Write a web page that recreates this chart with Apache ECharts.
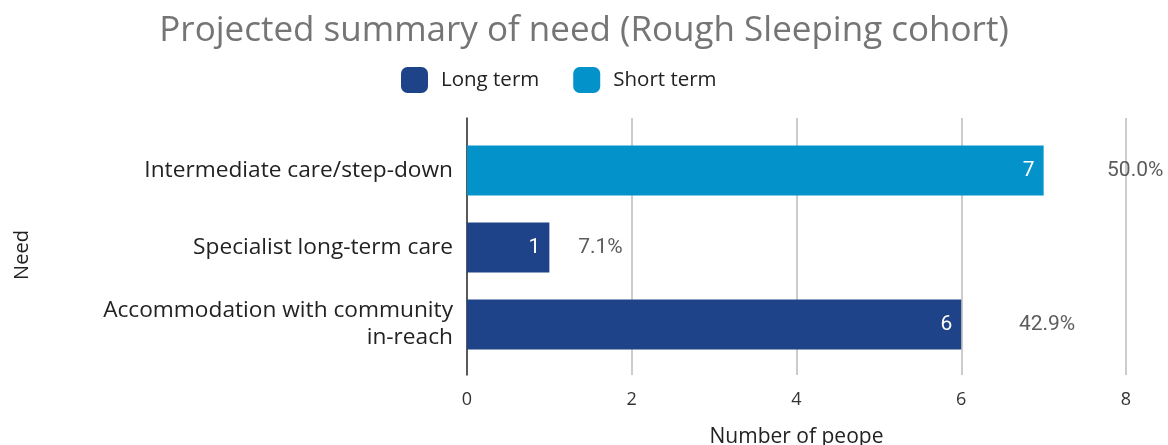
<!DOCTYPE html>
<html>
<head>
<meta charset="utf-8">
<script src="https://cdn.jsdelivr.net/npm/echarts@6/dist/echarts.min.js"></script>
<style>
  html, body { margin: 0; padding: 0; background: #fff; }
  #chart { width: 1168px; height: 445px; }
</style>
</head>
<body>
<div id="chart"></div>
<script>
// Categories listed bottom-to-top (category y axis draws first item at the bottom)
const categories = [
  'Accommodation with community\nin-reach',
  'Specialist long-term care',
  'Intermediate care/step-down'
];
const longTerm  = [6, 1, null];
const shortTerm = [null, null, 7];
const xTicks = { min: 0, max: 8, interval: 2 };

const FONT = 'Open Sans';
const NUM_FONT = 'Roboto';
const totals = categories.map((_, i) => (longTerm[i] || 0) + (shortTerm[i] || 0));
const grand = totals.reduce((a, b) => a + b, 0);
const shares = totals.map(t => t / grand * 100);

const chart = echarts.init(document.getElementById('chart'), null, { renderer: 'canvas' });
chart.setOption({
  animation: false,
  textStyle: { fontFamily: FONT },
  title: {
    text: 'Projected summary of need (Rough Sleeping cohort)',
    left: 'center', top: 9,
    textStyle: { fontFamily: FONT, fontSize: 35, fontWeight: 'normal', color: '#757575' }
  },
  legend: {
    top: 62, left: 396,
    itemWidth: 27, itemHeight: 26, itemGap: 34,
    icon: 'roundRect',
    textStyle: { fontFamily: FONT, fontSize: 20.5, color: '#222', padding: [0, 0, 0, 8] },
    data: ['Long term', 'Short term']
  },
  grid: [
    // bars
    { left: 467, right: 42, top: 132, height: 231, outerBoundsMode: 'none', containLabel: false },
    // frame: value scale, gridlines and axis names
    { left: 467, right: 42, top: 118, bottom: 70, outerBoundsMode: 'none', containLabel: false }
  ],
  xAxis: [
    { gridIndex: 0, type: 'value', min: xTicks.min, max: xTicks.max, interval: xTicks.interval, show: false },
    {
      gridIndex: 1, type: 'value', min: xTicks.min, max: xTicks.max, interval: xTicks.interval,
      name: 'Number of peope', nameLocation: 'middle', nameGap: 52,
      nameTextStyle: { fontFamily: FONT, fontSize: 21, color: '#222' },
      axisLine: { show: false }, axisTick: { show: false },
      axisLabel: { fontFamily: FONT, fontSize: 18, color: '#333', margin: 16 },
      splitLine: { show: true, lineStyle: { color: '#cccccc', width: 2 } }
    },
    // hidden scale for the share-of-total labels
    { gridIndex: 0, type: 'value', min: 0, max: 53.4, show: false }
  ],
  yAxis: [
    {
      gridIndex: 0, type: 'category', data: categories,
      axisLine: { show: false }, axisTick: { show: false },
      axisLabel: { fontFamily: FONT, fontSize: 22.7, color: '#222', margin: 14, lineHeight: 27, align: 'right' }
    },
    {
      gridIndex: 1, type: 'category', data: categories,
      name: 'Need', nameLocation: 'middle', nameGap: 435, nameRotate: 90,
      nameTextStyle: { fontFamily: FONT, fontSize: 20, color: '#222', padding: [0, 17, 0, 0] },
      axisLine: { show: true, lineStyle: { color: '#333', width: 1.5 } },
      axisTick: { show: false }, axisLabel: { show: false }, splitLine: { show: false }
    }
  ],
  series: [
    {
      name: 'Long term', type: 'bar', stack: 'need', xAxisIndex: 0, yAxisIndex: 0,
      data: longTerm, barWidth: 50,
      itemStyle: { color: '#1F4388' },
      label: { show: true, position: 'insideRight', distance: 9, color: '#fff', fontFamily: NUM_FONT, fontSize: 21 }
    },
    {
      name: 'Short term', type: 'bar', stack: 'need', xAxisIndex: 0, yAxisIndex: 0,
      data: shortTerm, barWidth: 50,
      itemStyle: { color: '#0393CA' },
      label: { show: true, position: 'insideRight', distance: 9, color: '#fff', fontFamily: NUM_FONT, fontSize: 21 }
    },
    {
      // share of the total per need
      name: 'Share', type: 'scatter', xAxisIndex: 2, yAxisIndex: 0,
      symbolSize: 0, silent: true,
      data: shares.map((s, i) => [s, i]),
      label: {
        show: true, position: 'right', distance: 23,
        color: '#333', fontFamily: NUM_FONT, fontSize: 21,
        formatter: p => p.value[0].toFixed(1) + '%'
      }
    }
  ]
});
</script>
</body>
</html>
